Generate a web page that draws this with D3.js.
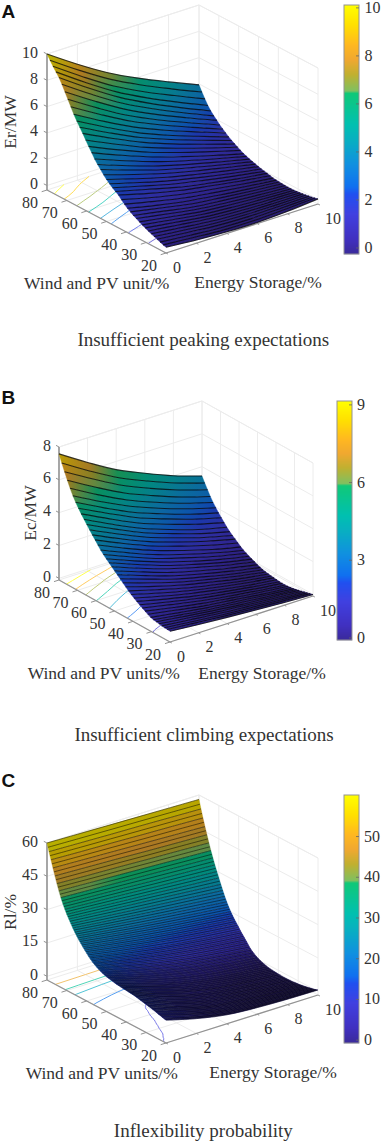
<!DOCTYPE html>
<html><head><meta charset="utf-8">
<script src="https://cdn.jsdelivr.net/npm/d3@7"></script>
<style>html,body{margin:0;background:#fff}svg{display:block}text{font-family:"Liberation Serif",serif;fill:#333}</style>
</head><body><svg id="c" width="381" height="1142"></svg>
<script>
const xTicks=[0,2,4,6,8,10];
const yTicks=[20,30,40,50,60,70,80];
const zTicksA=[0,2,4,6,8,10], zTicksB=[0,2,4,6,8], zTicksC=[0,15,30,45,60];
const barTicksA=[0,2,4,6,8,10], barTicksB=[0,3,6,9], barTicksC=[0,10,20,30,40,50];
const contourLevelsA=[0.62,1.45,2.55,3.37,4.65,6.1,7.95,9.15];
const contourLevelsB=[0.7,1.66,2.62,3.48,4.3,5.2,6.4];
const contourLevelsC=[8.8,16.9,26.4,34,46.5];
const colorStops=[0,.06,.16,.24,.27,.36,.46,.52,.645,.655,.72,.78,.84,.92,1];
const colorValues=["#3a2a9a","#4030c0","#4040e0","#2050f0","#1070f0","#1090e0","#08b0c0","#00c0b0","#10c878","#80c060","#c0b030","#f0a830","#ffb820","#ffe000","#ffff00"];
// rows run from y=80 (first) to y=20 (last); columns are x=0,2,4,6,8,10
const zGridA=[
[10,8.48,7.09,5.93,4.9,3.93],[9.65,8.11,6.7,5.53,4.49,3.5],[9.3,7.75,6.32,5.14,4.1,3.1],[9,7.43,5.99,4.79,3.72,2.72],
[8.7,7.13,5.69,4.49,3.42,2.42],[8.3,6.77,5.36,4.2,3.15,2.17],[7.85,6.38,5.02,3.89,2.89,1.95],[7.4,5.98,4.67,3.59,2.63,1.72],
[6.95,5.6,4.35,3.32,2.4,1.53],[6.5,5.21,4.03,3.05,2.18,1.35],[6.1,4.87,3.73,2.79,1.96,1.17],[5.75,4.57,3.48,2.58,1.78,1.02],
[5.4,4.27,3.23,2.37,1.6,.88],[5.02,3.95,2.97,2.16,1.43,.75],[4.65,3.64,2.72,1.95,1.27,.62],[4.3,3.35,2.48,1.76,1.1,.5],
[3.93,3.05,2.24,1.57,.97,.41],[3.63,2.8,2.04,1.41,.85,.32],[3.37,2.59,1.87,1.28,.75,.25],[3.1,2.37,1.7,1.14,.65,.18],
[2.85,2.17,1.53,1.02,.55,.11],[2.65,2,1.4,.9,.45,.05],[2.47,1.85,1.26,.79,.37,0],[2.3,1.71,1.12,.67,.28,-.05],
[2.15,1.53,1,.6,.22,-.11],[1.92,1.34,.84,.47,.13,-.17],[1.7,1.16,.69,.36,.06,-.2],[1.5,1,.57,.26,0,-.22],
[1.35,.9,.46,.2,-.04,-.24],[1.2,.78,.37,.13,-.08,-.25],[1.08,.68,.3,.07,-.12,-.26],[.95,.58,.22,.02,-.14,-.26],
[.84,.49,.16,-.03,-.16,-.25],[.73,.41,.1,-.07,-.17,-.23],[.62,.33,.05,-.1,-.17,-.2],[.52,.25,0,-.13,-.17,-.17],
[.43,.18,-.05,-.15,-.16,-.14],[.34,.12,-.09,-.17,-.15,-.1],[.25,.03,-.15,-.2,-.14,-.06],[.16,-.03,-.19,-.22,-.13,-.01],[.1,-.1,-.22,-.25,-.15,.05]];
const zGridB=[
[7.58,6.5,5.5,4.72,4.01,3.43],[7.12,6.06,5.1,4.34,3.66,3.1],[6.68,5.68,4.74,3.99,3.33,2.78],[6.26,5.27,4.36,3.64,3,2.47],
[5.86,4.9,4.03,3.33,2.71,2.2],[5.5,4.58,3.74,3.06,2.47,1.97],[5.2,4.3,3.47,2.82,2.23,1.75],[4.93,4.07,3.25,2.6,2.02,1.55],
[4.68,3.82,3.01,2.37,1.81,1.35],[4.45,3.58,2.78,2.14,1.58,1.16],[4.22,3.38,2.6,1.99,1.43,.99],[4,3.18,2.42,1.83,1.29,.85],
[3.78,2.98,2.25,1.67,1.15,.72],[3.57,2.79,2.08,1.51,1,.58],[3.35,2.59,1.9,1.34,.84,.44],[3.14,2.41,1.74,1.2,.73,.33],
[2.96,2.25,1.6,1.09,.62,.24],[2.8,2.11,1.48,.97,.52,.15],[2.65,1.98,1.36,.87,.43,.07],[2.5,1.85,1.26,.78,.35,0],
[2.35,1.72,1.13,.67,.26,-.08],[2.2,1.59,1.02,.58,.18,-.15],[2.05,1.47,.92,.5,.12,-.2],[1.9,1.34,.83,.43,.06,-.24],
[1.75,1.22,.74,.36,.01,-.27],[1.6,1.11,.65,.29,-.04,-.3],[1.47,1,.58,.23,-.07,-.32],[1.35,.91,.51,.19,-.11,-.34],
[1.24,.82,.44,.14,-.13,-.36],[1.13,.74,.39,.1,-.16,-.37],[1.03,.67,.33,.06,-.18,-.37],[.93,.59,.28,.04,-.18,-.36],
[.83,.53,.24,.03,-.18,-.34],[.74,.47,.21,.02,-.16,-.31],[.69,.44,.21,.03,-.14,-.27],[.66,.43,.22,.04,-.1,-.23],
[.63,.42,.22,.06,-.07,-.19],[.6,.41,.23,.09,-.04,-.14],[.58,.4,.24,.11,0,-.1],[.57,.41,.26,.14,.04,-.05],[.56,.41,.28,.17,.07,-.01]];
const zGridC=[
[60,59.6,59.2,58.8,58.4,58],[56.6,56.1,55.6,55.2,54.7,54.2],[53.4,52.8,52.3,51.7,51.2,50.6],[50.2,49.6,49,48.4,47.8,47.2],[47.1,46.5,45.9,45.2,44.6,44],
[44.1,43.4,42.8,42.1,41.5,40.8],[41.3,40.6,39.9,39.2,38.5,37.8],[38.7,38,37.2,36.5,35.7,35],[36.4,35.6,34.8,33.9,33.1,32.3],[34.4,33.5,32.6,31.6,30.7,29.8],
[32.6,31.6,30.5,29.5,28.4,27.4],[31,29.8,28.6,27.4,26.2,25],[29.4,28,26.6,25.3,24,22.7],[27.9,26.3,24.8,23.3,21.9,20.5],[26.5,24.8,23.1,21.5,20,18.5],
[25.2,23.3,21.5,19.8,18.2,16.7],[24,22,20.1,18.3,16.6,15.1],[22.9,20.8,18.8,16.9,15.3,13.7],[21.8,19.6,17.5,15.6,14,12.4],[20.8,18.5,16.3,14.4,12.7,11.2],
[19.8,17.4,15.2,13.2,11.5,10],[18.8,16.3,14,11.9,10.2,8.7],[18,15.4,12.9,10.9,9.1,7.6],[17.2,14.5,11.9,9.8,8,6.5],[16.6,13.7,11,8.8,7,5.4],
[16,12.9,10,7.6,5.8,4.2],[15.5,12.2,9.1,6.6,4.7,3.1],[15,11.5,8.4,5.8,3.9,2.3],[14.6,11,7.7,5.1,3.2,1.6],[14.3,10.5,7.2,4.5,2.5,1],
[14,10.1,6.7,4,2,.5],[13.8,9.8,6.3,3.5,1.6,.1],[13.6,9.5,5.8,3,1.1,-.3],[13.4,9.2,5.5,2.7,.8,-.6],[13.2,8.9,5.1,2.3,.4,-.9],
[13,8.6,4.8,2,.2,-1.1],[12.9,8.4,4.6,1.8,0,-1.3],[12.8,8.3,4.3,1.6,-.2,-1.4],[12.7,8.1,4.1,1.4,-.3,-1.5],[12.6,7.9,3.9,1.2,-.5,-1.6],
[12.5,7.7,3.7,1,-.6,-1.7],[12.4,7.5,3.6,1,-.6,-1.7],[12.3,7.4,3.3,.8,-.8,-1.8],[12.2,7.2,3.2,.7,-.8,-1.8],[12.1,7.1,3.1,.6,-.8,-1.8],
[11.9,6.9,2.9,.5,-.9,-1.8],[11.7,6.7,2.8,.5,-.8,-1.7],[11.5,6.5,2.6,.4,-.9,-1.7],[11.3,6.4,2.5,.4,-.8,-1.6],[11.1,6.2,2.4,.4,-.8,-1.5],
[10.9,6,2.3,.3,-.7,-1.4],[10.7,5.9,2.2,.3,-.7,-1.3],[10.5,5.8,2.2,.4,-.5,-1.1],[10.3,5.7,2.2,.4,-.5,-1],[10.1,5.6,2.1,.5,-.3,-.8],
[9.8,5.4,2.1,.6,-.2,-.6],[9.5,5.3,2.1,.7,0,-.4],[9.3,5.2,2.2,.8,.2,-.2],[9,5,2.2,.9,.3,0],[8.8,5,2.3,1.1,.6,.3],[8.6,5,2.4,1.3,.8,.6]];

const panels=[
{letter:"A",letterY:18,grid:zGridA,zTicks:zTicksA,barTicks:barTicksA,levels:contourLevelsA,
 O:[166,253],ex:[152,-49],ey:[-119,-63],ez:136,zDom:[-.34,10],colorDom:[-.25,10.12],contourDom:[-.25,9],
 bar:{x:344,w:15,y0:5,y1:254,dom:[-.25,10.12],lx:364.5},meshW:1.1,meshO:.75,hatch:false,zEnd:9,
 zLabel:"Er/MW",zLab:[16,122],yLabel:"Wind and PV unit/%",yLab:[96.7,289],xLabel:"Energy Storage/%",xLab:[258,288],
 caption:"Insufficient peaking expectations",capt:[203.3,346]},
{letter:"B",letterY:404,grid:zGridB,zTicks:zTicksB,barTicks:barTicksB,levels:contourLevelsB,
 O:[170,642],ex:[143,-46],ey:[-111,-62],ez:133,zDom:[-.1,8],colorDom:[0,8.2],contourDom:[0,6.2],
 bar:{x:337,w:15,y0:401,y1:640,dom:[-.08,9.15],lx:357},meshW:1.1,meshO:.75,hatch:false,zEnd:8,
 zLabel:"Ec/MW",zLab:[36,513],yLabel:"Wind and PV units/%",yLab:[103.7,679],xLabel:"Energy Storage/%",xLab:[262,679],
 caption:"Insufficient climbing expectations",capt:[204,741]},
{letter:"C",letterY:787,grid:zGridC,zTicks:zTicksC,barTicks:barTicksC,levels:contourLevelsC,
 O:[166,1043],ex:[152,-48],ey:[-119,-63],ez:137,zDom:[-1.66,60],colorDom:[-.7,60.2],contourDom:[-.7,60.2],
 bar:{x:344,w:15,y0:795,y1:1043,dom:[-.7,60.2],lx:364},meshW:.7,meshO:.7,hatch:true,zEnd:9,
 zLabel:"Rl/%",zLab:[16,912],yLabel:"Wind and PV units/%",yLab:[101.7,1079],xLabel:"Energy Storage/%",xLab:[273,1078],
 caption:"Inflexibility probability",capt:[203.3,1137]}
];

const svg=d3.select("#c"), defs=svg.append("defs");
const frac=d3.scaleLinear().domain(colorStops).range(colorValues).interpolate(d3.interpolateRgb).clamp(true);
const gridCol="#ececec", axisCol="#939393", FS=17.5, TICK=16, CAP=19, SHADE=.72;
let gid=0;

panels.forEach(p=>{
  const g=svg.append("g");
  const n=p.grid.length, m=xTicks.length;
  const sx=d3.scaleLinear([0,10],[0,1]), sy=d3.scaleLinear([20,80],[0,1]), sz=d3.scaleLinear(p.zDom,[0,1]);
  const P=(x,y,z)=>[p.O[0]+sx(x)*p.ex[0]+sy(y)*p.ey[0], p.O[1]+sx(x)*p.ex[1]+sy(y)*p.ey[1]-sz(z)*p.ez];
  const zF=p.zDom[0], zT=p.zDom[1];
  const rowY=d3.scaleLinear([0,n-1],[80,20]);
  const col=d3.scaleLinear(p.colorDom,[0,1]).clamp(true);
  const color=z=>{const c=d3.rgb(frac(col(z)));return d3.rgb(c.r*SHADE,c.g*SHADE,c.b*SHADE).formatHex();};
  const seg=(a,b,s,w)=>g.append("line").attr("x1",a[0]).attr("y1",a[1]).attr("x2",b[0]).attr("y2",b[1]).attr("stroke",s).attr("stroke-width",w);
  xTicks.forEach(x=>{seg(P(x,80,zF),P(x,80,zT),gridCol,1);seg(P(x,20,zF),P(x,80,zF),gridCol,1);});
  yTicks.forEach(y=>{seg(P(10,y,zF),P(10,y,zT),gridCol,1);seg(P(0,y,zF),P(10,y,zF),gridCol,1);});
  p.zTicks.forEach(z=>{seg(P(0,80,z),P(10,80,z),gridCol,1);seg(P(10,80,z),P(10,20,z),gridCol,1);});
  seg(P(0,80,zT),P(10,80,zT),gridCol,1);seg(P(10,80,zT),P(10,20,zT),gridCol,1);
  const flat=p.grid.flat();
  const cc=d3.contours().size([m,n]).thresholds(p.levels)(flat);
  const cCol=d3.scaleLinear(p.contourDom,[0,1]).clamp(true);
  const lineG=d3.line();
  cc.forEach(c=>{
    let runs=[];
    c.coordinates.forEach(poly=>poly.forEach(ring=>{
      let cur=[];
      ring.forEach(pt=>{
        const ok=pt[0]>=.5&&pt[0]<=m-.5&&pt[1]>=.5&&pt[1]<=n-.5;
        if(ok){cur.push(P((pt[0]-.5)*2,rowY(pt[1]-.5),zF));}
        else{if(cur.length>1)runs.push(cur);cur=[];}
      });
      if(cur.length>1)runs.push(cur);
    }));
    const tint=d3.interpolateRgb(frac(cCol(c.value)),"#fff")(.3);
    runs.forEach(r=>g.append("path").attr("d",lineG(r)).attr("fill","none").attr("stroke",tint).attr("stroke-width",1));
  });
  seg(P(0,80,zF),P(0,80,zT),axisCol,1.6);
  seg(P(0,80,zF),P(0,20,zF),axisCol,1.3);
  seg(P(0,20,zF),P(10,20,zF),axisCol,1.3);
  p.zTicks.forEach(z=>seg(P(0,80,z),P(0,81.6,z),axisCol,1));
  yTicks.forEach(y=>seg(P(0,y,zF),P(-.35,y,zF),axisCol,1));
  xTicks.forEach(x=>seg(P(x,20,zF),P(x,19,zF),axisCol,1));
  const txt=(s,x,y,a,fs)=>g.append("text").attr("x",x).attr("y",y).attr("text-anchor",a).attr("font-size",fs).text(s);
  p.zTicks.forEach(z=>{const q=P(0,80,z);txt(z,q[0]-p.zEnd,q[1]+3.5,"end",TICK);});
  yTicks.forEach(y=>{const q=P(0,y,zF);txt(y,q[0]-17,q[1]+17.5,"middle",TICK);});
  xTicks.forEach(x=>{const q=P(x,20,zF);txt(x,q[0]+(x===10?15:11),q[1]+19.5,"middle",TICK);});
  const rowPts=j=>p.grid[j].map((z,i)=>P(xTicks[i],rowY(j),z));
  const curve=d3.line().curve(d3.curveCatmullRom);
  for(let j=0;j<n-1;j++){
    const a=rowPts(j), b=rowPts(j+1), id="s"+(gid++);
    const gr=defs.append("linearGradient").attr("id",id).attr("gradientUnits","userSpaceOnUse")
      .attr("x1",(a[0][0]+b[0][0])/2).attr("x2",(a[m-1][0]+b[m-1][0])/2).attr("y1",0).attr("y2",0);
    xTicks.forEach((x,i)=>gr.append("stop").attr("offset",sx(x)).attr("stop-color",color((p.grid[j][i]+p.grid[j+1][i])/2)));
    const d=curve(a)+"L"+curve(b.slice().reverse()).slice(1)+"Z";
    g.append("path").attr("d",d).attr("fill",`url(#${id})`).attr("stroke",`url(#${id})`).attr("stroke-width",.4);
  }
  const mesh=pts=>g.append("path").attr("d",curve(pts)).attr("fill","none").attr("stroke","#000").attr("stroke-width",p.meshW).attr("stroke-opacity",p.meshO);
  for(let j=0;j<n;j++){
    const a=rowPts(j);
    mesh(a);
    if(p.hatch&&j<n-1){ // fine mesh hatch drawn between the read rows; adds no values
      const b=rowPts(j+1);
      mesh(a.map((q,i)=>[(q[0]+b[i][0])/2,(q[1]+b[i][1])/2]));
    }
  }
  const b=p.bar, by=d3.scaleLinear(b.dom,[b.y1,b.y0]);
  d3.range(b.y0,b.y1).forEach(yy=>g.append("rect").attr("x",b.x).attr("y",yy).attr("width",b.w).attr("height",1.2)
     .attr("fill",frac(1-(yy+.5-b.y0)/(b.y1-b.y0))));
  g.append("rect").attr("x",b.x).attr("y",b.y0).attr("width",b.w).attr("height",b.y1-b.y0).attr("fill","none").attr("stroke",axisCol).attr("stroke-width",1);
  p.barTicks.forEach(t=>{
    seg([b.x+b.w-3,by(t)],[b.x+b.w,by(t)],"#666",.8);
    txt(t,b.lx,by(t)+5,"start",TICK);
  });
  g.append("text").attr("transform",`translate(${p.zLab[0]},${p.zLab[1]}) rotate(-90)`).attr("text-anchor","middle").attr("font-size",FS).text(p.zLabel);
  txt(p.yLabel,p.yLab[0],p.yLab[1],"middle",FS);
  txt(p.xLabel,p.xLab[0],p.xLab[1],"middle",FS);
  txt(p.caption,p.capt[0],p.capt[1],"middle",CAP);
  g.append("text").attr("x",1.5).attr("y",p.letterY).attr("font-size",19).style("font-family","'Liberation Sans',Arial,sans-serif").style("font-weight","700").style("fill","#111").text(p.letter);
});
</script></body></html>
